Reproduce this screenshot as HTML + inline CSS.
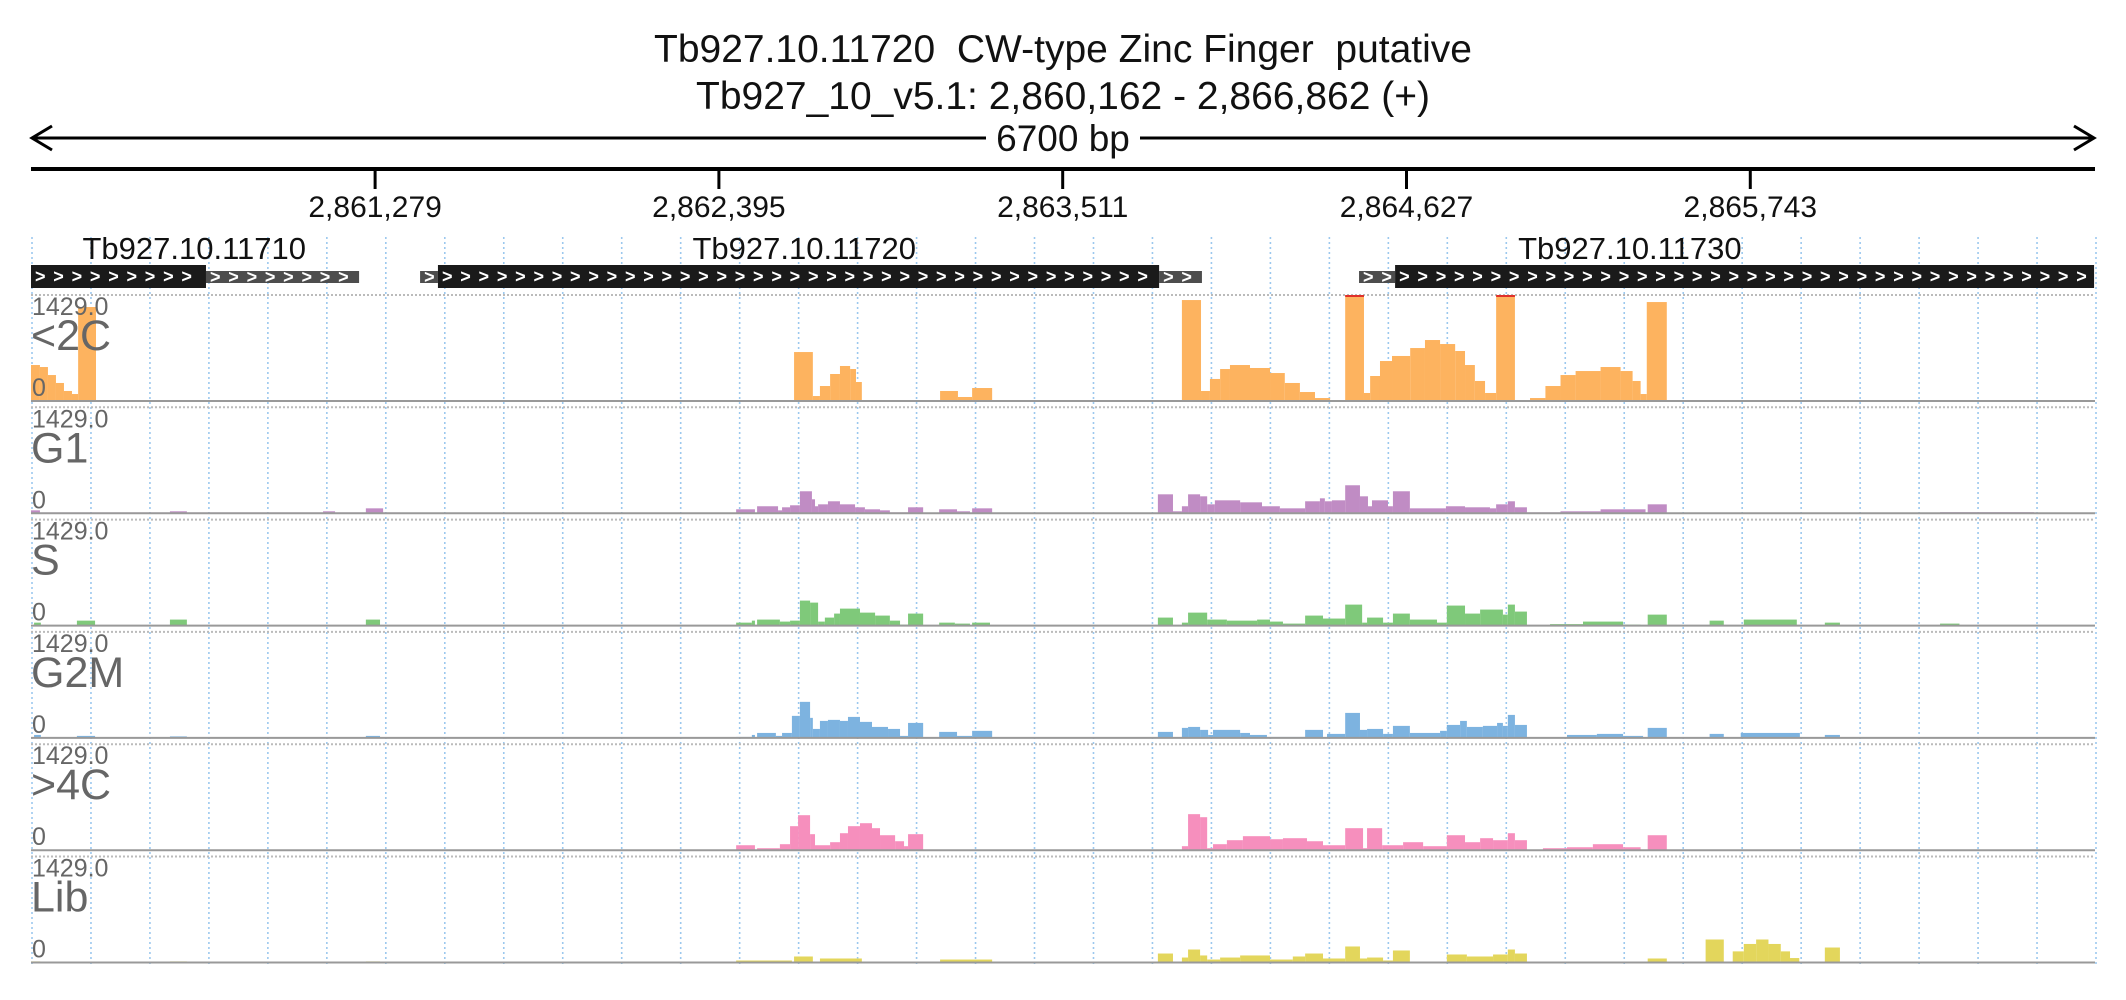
<!DOCTYPE html>
<html><head><meta charset="utf-8"><style>
html,body{margin:0;padding:0;background:#fff;}
svg{display:block;font-family:"Liberation Sans",sans-serif;}
</style></head><body>
<svg id="chart" width="2126" height="1000" viewBox="0 0 2126 1000" xmlns="http://www.w3.org/2000/svg">
<rect width="2126" height="1000" fill="#fff"/>
<text x="1063" y="62" font-size="39" text-anchor="middle" fill="#111" style="white-space:pre" xml:space="preserve">Tb927.10.11720  CW-type Zinc Finger  putative</text>
<text x="1063" y="109" font-size="39" text-anchor="middle" fill="#111">Tb927_10_v5.1: 2,860,162 - 2,866,862 (+)</text>
<g id="grid"></g>
<g id="scale">
<line x1="33" y1="138" x2="2093" y2="138" stroke="#000" stroke-width="3"/>
<polyline points="52,126 32,138 52,150" fill="none" stroke="#000" stroke-width="3"/>
<polyline points="2074,126 2094,138 2074,150" fill="none" stroke="#000" stroke-width="3"/>
<rect x="986" y="118" width="154" height="40" fill="#fff"/>
<text x="1063" y="151" font-size="37" text-anchor="middle" fill="#111">6700 bp</text>
</g>
<line x1="31" y1="169" x2="2095" y2="169" stroke="#000" stroke-width="4"/>
<g id="axis"></g>
<g id="genes"></g>
<g id="tracks"></g>
</svg>
<script>
const NS="http://www.w3.org/2000/svg";
const START=2860162, LEN=6700, X0=31, X1=2095, YMAX=1429;
const tickPositions=[2861279,2862395,2863511,2864627,2865743];
const tickLabels=["2,861,279","2,862,395","2,863,511","2,864,627","2,865,743"];
const geneNames=["Tb927.10.11710","Tb927.10.11720","Tb927.10.11730"];
const geneLabelPos=[530,2510,5190];
const cdsParts=[[0,568],[1321,3662],[4428,6697]];
const utrParts=[[568,1065],[1263,1321],[3662,3801],[4311,4428]];
const trackNames=["<2C","G1","S","G2M",">4C","Lib"];
const trackColors=["#fdb35f","#c08cc4","#7fc97a","#7db3e0","#f68fbd","#e3d65c"];
const cov2C=[[0,29,485],[29,55,458],[55,81,350],[81,107,243],[107,133,135],[133,153,94],[153,211,1267],
[2477,2538,660],[2538,2561,67],[2561,2594,202],[2594,2626,364],[2626,2659,472],[2659,2678,431],[2678,2697,256],
[2951,3009,135],[3009,3055,54],[3055,3120,175],
[3736,3798,1361],[3798,3827,135],[3827,3860,297],[3860,3892,431],[3892,3957,485],[3957,4022,445],[4022,4070,377],[4070,4119,243],[4119,4168,121],[4168,4217,40],[4217,4266,13],
[4266,4327,1600],[4327,4347,108],[4347,4379,337],[4379,4418,539],[4418,4477,607],[4477,4525,714],[4525,4574,822],[4574,4623,768],[4623,4655,674],[4655,4687,485],[4687,4720,270],[4720,4756,108],[4756,4817,1600],
[4866,4916,40],[4916,4965,202],[4965,5014,350],[5014,5095,404],[5095,5160,458],[5160,5199,404],[5199,5225,270],[5225,5245,94],[5245,5310,1334]];
const covG1=[[0,29,40],[29,451,12],[451,506,27],[506,948,12],[948,987,27],[987,1087,12],[1087,1143,67],[1143,1198,12],
[2289,2350,54],[2357,2425,95],[2425,2438,40],[2438,2464,81],[2464,2496,108],[2496,2535,297],[2535,2545,189],[2545,2555,95],[2555,2587,121],[2587,2626,162],[2626,2675,121],[2675,2707,81],[2707,2756,54],[2756,2788,40],[2788,2847,13],[2847,2896,81],[2948,3006,54],[3006,3048,27],[3055,3120,67],
[3658,3707,256],[3707,3736,27],[3736,3756,95],[3756,3795,256],[3795,3818,229],[3818,3843,121],[3843,3925,175],[3925,3996,148],[3996,4054,95],[4054,4136,67],[4136,4184,162],[4184,4200,202],[4200,4223,162],[4223,4266,175],[4266,4314,378],[4314,4340,229],[4340,4353,95],[4353,4405,175],[4405,4421,95],[4421,4476,297],[4476,4593,67],[4593,4655,95],[4655,4736,81],[4736,4756,67],[4756,4794,121],[4794,4817,162],[4817,4856,81],[4856,4965,13],[4965,5095,27],[5095,5241,54],[5248,5310,121],
[6197,6502,15]];
const covS=[[10,32,40],[149,208,67],[208,1198,8],[451,506,81],[1087,1133,81],
[2289,2340,40],[2340,2350,67],[2357,2431,81],[2431,2464,54],[2464,2496,67],[2496,2529,337],[2529,2555,310],[2555,2577,54],[2577,2607,108],[2607,2626,162],[2626,2691,229],[2691,2740,175],[2740,2788,135],[2788,2821,67],[2821,2847,13],[2847,2896,162],[2948,2999,40],[2999,3048,27],[3055,3113,40],
[3658,3707,108],[3736,3756,40],[3756,3818,175],[3818,3882,81],[3882,3980,67],[3980,4022,81],[4022,4064,54],[4064,4136,27],[4136,4194,135],[4194,4266,95],[4266,4321,283],[4321,4337,40],[4337,4389,108],[4389,4421,40],[4421,4476,162],[4476,4564,81],[4564,4596,40],[4596,4655,270],[4655,4704,162],[4704,4778,216],[4778,4794,148],[4794,4817,283],[4817,4856,189],[4856,4931,7],[4931,5038,20],[5038,5168,54],[5168,5225,13],[5248,5310,148],
[5449,5495,67],[5560,5732,81],[5823,5872,40],[6197,6260,27]];
const covG2M=[[10,32,40],[149,208,27],[451,506,20],[1087,1133,27],
[2289,2340,13],[2340,2350,40],[2357,2418,67],[2418,2438,27],[2438,2470,67],[2470,2496,297],[2496,2529,486],[2529,2538,270],[2538,2561,121],[2561,2587,229],[2587,2626,243],[2626,2652,229],[2652,2691,283],[2691,2730,216],[2730,2782,148],[2782,2821,121],[2821,2847,27],[2847,2896,202],[2948,3006,81],[3006,3055,27],[3055,3120,95],
[3658,3707,81],[3736,3756,135],[3756,3795,148],[3795,3821,108],[3821,3837,40],[3837,3925,108],[3925,3957,67],[3957,4012,40],[4012,4136,13],[4136,4194,108],[4207,4266,54],[4266,4314,337],[4314,4337,108],[4337,4389,121],[4389,4421,54],[4421,4476,162],[4476,4574,67],[4574,4596,95],[4596,4639,175],[4639,4661,229],[4661,4713,148],[4713,4759,162],[4759,4778,202],[4778,4794,162],[4794,4817,310],[4817,4856,175],[4856,4986,7],[4986,5083,40],[5083,5168,54],[5168,5233,27],[5248,5310,135],
[5449,5495,54],[5550,5742,67],[5823,5872,40]];
const cov4C=[[2289,2350,67],[2357,2431,27],[2431,2464,81],[2464,2490,324],[2490,2529,472],[2529,2545,216],[2545,2594,67],[2594,2626,108],[2626,2652,229],[2652,2691,324],[2691,2730,364],[2730,2756,297],[2756,2805,202],[2805,2834,121],[2834,2847,54],[2847,2896,216],
[3736,3756,54],[3756,3795,486],[3795,3818,445],[3818,3837,27],[3837,3882,81],[3882,3934,135],[3934,4022,189],[4022,4064,148],[4064,4142,162],[4142,4194,121],[4194,4266,67],[4266,4324,297],[4324,4337,27],[4337,4386,297],[4386,4454,67],[4454,4519,108],[4519,4596,54],[4596,4655,202],[4655,4704,108],[4704,4746,162],[4746,4794,135],[4794,4817,229],[4817,4856,135],[4908,4986,27],[4986,5070,40],[5070,5168,81],[5168,5225,40],[5248,5310,202]];
const covLib=[[0,30,15],[451,506,15],[1087,1133,15],
[2289,2470,27],[2477,2538,81],[2561,2697,54],[2951,3120,40],
[3658,3707,121],[3736,3756,67],[3756,3795,175],[3795,3818,95],[3818,3860,40],[3860,3925,67],[3925,4022,95],[4022,4096,40],[4096,4136,81],[4136,4194,121],[4194,4266,54],[4266,4314,216],[4314,4337,54],[4337,4389,67],[4389,4421,27],[4421,4476,162],[4476,4596,13],[4596,4661,108],[4661,4746,81],[4746,4794,108],[4794,4817,175],[4817,4856,121],[4986,5148,13],[5248,5310,54],
[5436,5495,310],[5524,5560,150],[5560,5600,250],[5600,5640,310],[5640,5680,250],[5680,5710,150],[5710,5740,60],[5823,5872,202]];
const coverage=[cov2C,covG1,covS,covG2M,cov4C,covLib];

const TRACK_TOP=295, TRACK_PITCH=112.3, TRACK_H=106;
function xScale(off){return X0+off*(X1-X0)/LEN;}
function yScale(v,base){return base-Math.min(v,YMAX)/YMAX*TRACK_H;}
function mk(tag,attrs,parent){const e=document.createElementNS(NS,tag);for(const k in attrs)e.setAttribute(k,attrs[k]);parent.appendChild(e);return e;}

const grid=document.getElementById('grid');
for(let i=0;i<=35;i++){
  const x=X0+1+i*(X1-X0)/35;
  const l=mk('line',{x1:x,y1:237,x2:x,y2:966,stroke:'#9cc8ee','stroke-width':1.6,'stroke-dasharray':'2,3'},grid);
  
  
}

const axis=document.getElementById('axis');
tickPositions.forEach((p,i)=>{
  const x=xScale(p-START);
  const t=mk('line',{x1:x,y1:169,x2:x,y2:189,stroke:'#000','stroke-width':3},axis);
  
  
  const tx=mk('text',{x:x,y:217,'font-size':30,'text-anchor':'middle',fill:'#111'},axis);
  tx.textContent=tickLabels[i];
  
  
});

const genes=document.getElementById('genes');
geneNames.forEach((n,i)=>{
  const t=mk('text',{x:xScale(geneLabelPos[i]),y:259,'font-size':31,'text-anchor':'middle',fill:'#111'},genes);
  t.textContent=n;
  
  
});
function drawPart(p,y,h,fill,name){
  const x1=xScale(p[0]),x2=xScale(p[1]);
  const r=mk('rect',{x:x1,y:y,width:x2-x1,height:h,fill:fill},genes);
  
  
  for(let cx=x1+4;cx<x2-8;cx+=18.3){
    const c=mk('text',{x:cx,y:y+h/2+6,'font-size':18,'font-weight':'bold',fill:'#fff'},genes);
    c.textContent='>';
    
    
  }
}
utrParts.forEach(p=>drawPart(p,271,12,'#4d4d4d','gene-utr'));
cdsParts.forEach(p=>drawPart(p,265,23,'#1a1a1a','gene-cds'));

const tracks=document.getElementById('tracks');
trackNames.forEach((name,i)=>{
  const top=TRACK_TOP+i*TRACK_PITCH, base=top+TRACK_H;
  const g=mk('g',{},tracks);
  
  
  const tl=mk('line',{x1:X0,y1:top,x2:X1,y2:top,stroke:'#bbb','stroke-width':2,'stroke-dasharray':'2,2'},g);
  
  
  coverage[i].forEach(s=>{
    const x1=xScale(s[0]),x2=xScale(s[1]),y=yScale(s[2],base);
    const r=mk('rect',{x:x1,y:y,width:Math.max(0.5,x2-x1),height:base-y,fill:trackColors[i]},g);
    
    
    if(s[2]>YMAX){
      const c=mk('rect',{x:x1,y:top,width:x2-x1,height:2,fill:'#e0302a'},g);
      
      
    }
  });
  const bl=mk('line',{x1:X0,y1:base,x2:X1,y2:base,stroke:'#999','stroke-width':2},g);
  
  
  const mx=mk('text',{x:32,y:top+20,'font-size':25,fill:'#666'},g);
  mx.textContent='1429.0';
  
  
  const nm=mk('text',{x:31,y:top+55,'font-size':43,fill:'#666'},g);
  nm.textContent=name;
  
  
  const z=mk('text',{x:32,y:top+101,'font-size':25,fill:'#666'},g);
  z.textContent='0';
  
  
});
</script>
</body></html>
